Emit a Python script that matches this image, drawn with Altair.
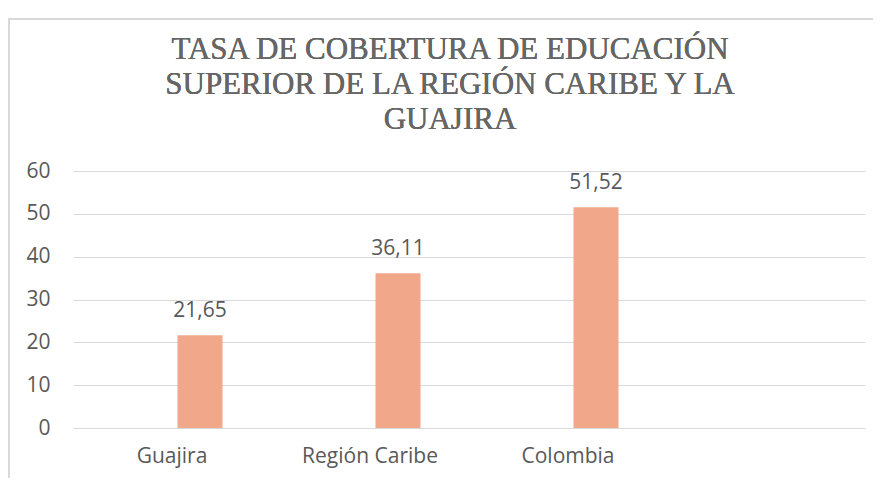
import altair as alt
import pandas as pd

categories = ["Guajira", "Región Caribe", "Colombia"]
values = [21.65, 36.11, 51.52]
labels = ["21,65", "36,11", "51,52"]
domain = categories + [" "]
title_lines = ["TASA DE COBERTURA DE EDUCACIÓN", "SUPERIOR DE LA REGIÓN CARIBE Y LA", "GUAJIRA"]

df = pd.DataFrame({"cat": categories, "val": values, "lab": labels})

font_sans = "Open Sans"
gray = "#595959"
fs = 21

x_enc = alt.X("cat:N", scale=alt.Scale(domain=domain, paddingInner=0, paddingOuter=0),
              sort=domain,
              axis=alt.Axis(title=None, labelAngle=0, domain=False, ticks=False, tickSize=0,
                            labelPadding=17, labelFontSize=fs, labelFont=font_sans,
                            labelColor=gray, grid=False, labelBaseline="top"))
y_enc = alt.Y("val:Q", scale=alt.Scale(domain=[0, 60], nice=False),
              axis=alt.Axis(title=None, values=[0, 10, 20, 30, 40, 50, 60], domain=False,
                            ticks=False, tickSize=0, labelPadding=23, labelFontSize=fs,
                            labelFont=font_sans, labelColor=gray, gridColor="#d9d9d9",
                            gridWidth=1.2))

bars = alt.Chart(df).mark_bar(color="#F1A88A", size=45, xOffset=28).encode(x=x_enc, y=y_enc)
text = alt.Chart(df).mark_text(font=font_sans, fontSize=fs, color=gray, dy=-18,
                               baseline="alphabetic", xOffset=28).encode(
    x=alt.X("cat:N", sort=domain), y="val:Q", text="lab:N")

border = alt.Chart(df).mark_rect(fill=None, stroke="#d9d9d9", strokeWidth=1.5).encode(
    x=alt.value(-64), x2=alt.value(900), y=alt.value(-152), y2=alt.value(400))

title = alt.Chart(df).mark_text(text=title_lines, font="Times New Roman", fontSize=31,
                                fontWeight=400, color="#666666", lineHeight=35,
                                baseline="alphabetic", align="center").encode(
    x=alt.value(377), y=alt.value(-112))

chart = alt.layer(border, bars, text, title).properties(
    width=792, height=257,
    autosize=alt.AutoSizeParams(type="none"),
    padding={"left": 65, "top": 163, "right": 8, "bottom": 50},
).configure_view(stroke=None)

chart.save("out.html", embed_options={"renderer": "svg", "actions": False})
